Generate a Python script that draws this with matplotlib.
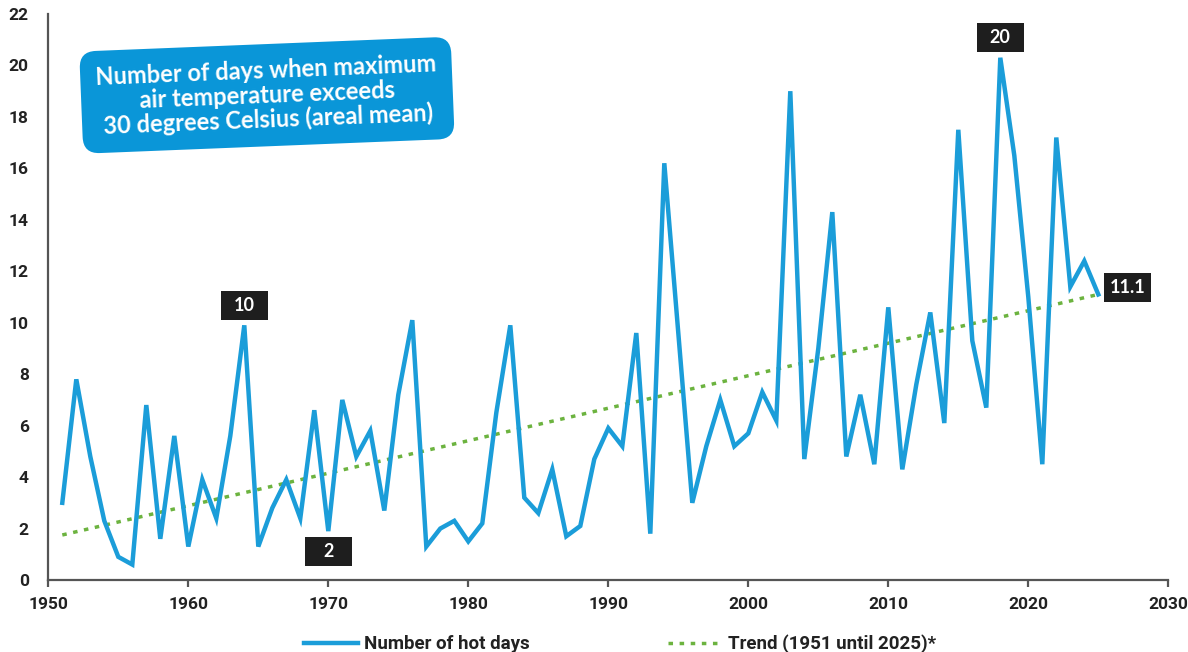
# %%
# =========================
# SETUP
# =========================

import matplotlib

matplotlib.use("Agg")
import matplotlib.pyplot as plt
from matplotlib.patches import Rectangle
from matplotlib.transforms import ScaledTranslation

# %%
# =========================
# DATA
# =========================

years = list(range(1951, 2026))

hot_days = [
    3.0, 7.8, 4.8, 2.3, 0.9, 0.6, 6.8, 1.6, 5.6,            # 1951-1959
    1.3, 3.9, 2.4, 5.6, 9.9, 1.3, 2.8, 3.9, 2.4, 6.6,       # 1960s
    1.9, 7.0, 4.8, 5.8, 2.7, 7.2, 10.1, 1.3, 2.0, 2.3,      # 1970s
    1.5, 2.2, 6.5, 9.9, 3.2, 2.6, 4.3, 1.7, 2.1, 4.7,       # 1980s
    5.9, 5.2, 9.6, 1.8, 16.2, 9.6, 3.0, 5.2, 7.0, 5.2,      # 1990s
    5.7, 7.3, 6.2, 19.0, 4.7, 9.0, 14.3, 4.8, 7.2, 4.5,     # 2000s
    10.6, 4.3, 7.6, 10.4, 6.1, 17.5, 9.3, 6.7, 20.3, 16.5,  # 2010s
    11.0, 4.5, 17.2, 11.4, 12.4, 11.1,                      # 2020-2025
]

trend_years = [1951, 2025]
trend_values = [1.75, 11.1]

# labelled points: year, text, offset of the box centre in pixels
label_years = [1964, 1970, 2018, 2025]
label_texts = ["10", "2", "20", "11.1"]
label_dx = [0, 0, 0, 29]
label_dy = [20, -20, 20, 7]

title = "Number of days when maximum\nair temperature exceeds\n30 degrees Celsius (areal mean)"

# %%
# =========================
# PLOT
# =========================

BLUE = "#1b9dd9"
GREEN = "#6cb33f"
AXIS = "#555555"

fig = plt.figure(figsize=(11.88, 6.52), dpi=100)
ax = fig.add_axes([48.3 / 1188, 72 / 652, 1120 / 1188, 566 / 652])

ax.plot(years, hot_days, color=BLUE, lw=3.2, solid_joinstyle="miter",
        label="Number of hot days", zorder=3)
ax.plot(trend_years, trend_values, color=GREEN, lw=2.5,
        linestyle=(0, (1.3, 1.9)), label="Trend (1951 until 2025)*", zorder=2)

ax.set_xlim(1950, 2030)
ax.set_ylim(0, 22)
ax.set_xticks(range(1950, 2031, 10))
ax.set_yticks(range(0, 23, 2))

for side in ["top", "right"]:
    ax.spines[side].set_visible(False)
for side in ["left", "bottom"]:
    ax.spines[side].set_color(AXIS)
    ax.spines[side].set_linewidth(1.6)

tick_font = dict(family="Roboto", weight="bold", size=12.5)
ax.tick_params(axis="x", direction="out", length=5, width=1.6, color=AXIS, pad=7)
ax.tick_params(axis="y", length=0, pad=14)
for lbl in ax.get_xticklabels() + ax.get_yticklabels():
    lbl.set_fontproperties(tick_font)
    lbl.set_color("#222222")

# black value boxes
box_w, box_h = 47 / 100, 29 / 100
for yr, txt, dx, dy in zip(label_years, label_texts, label_dx, label_dy):
    val = hot_days[years.index(yr)]
    trans = fig.dpi_scale_trans + ScaledTranslation(yr, val, ax.transData)
    ax.add_patch(Rectangle((dx / 100 - box_w / 2, dy / 100 - box_h / 2), box_w, box_h,
                           transform=trans, facecolor="#1e1e1e", edgecolor="none",
                           clip_on=False, zorder=5))
    ax.annotate(txt, xy=(yr, val), xytext=(dx, dy), textcoords="offset pixels",
                ha="center", va="center", color="white", fontsize=13,
                family="Lato", weight="bold", zorder=6, annotation_clip=False)

# title box, slightly tilted
fig.text(0.2247, 0.854, title, ha="center", va="center", multialignment="center",
         rotation=2.3, rotation_mode="anchor", color="white", fontsize=17,
         family="Lato", weight="bold", linespacing=1.05,
         bbox=dict(boxstyle="round,pad=0.65,rounding_size=0.7", fc="#0a96d8", ec="none"))

leg = fig.legend(loc="lower center", bbox_to_anchor=(0.522, -0.028), ncol=2,
                 frameon=False, handlelength=2.9, handletextpad=0.3,
                 columnspacing=7.4, prop=dict(family="Roboto", weight="bold", size=13.5))
for t in leg.get_texts():
    t.set_color("#222222")

fig.savefig("out.png", dpi=100)
